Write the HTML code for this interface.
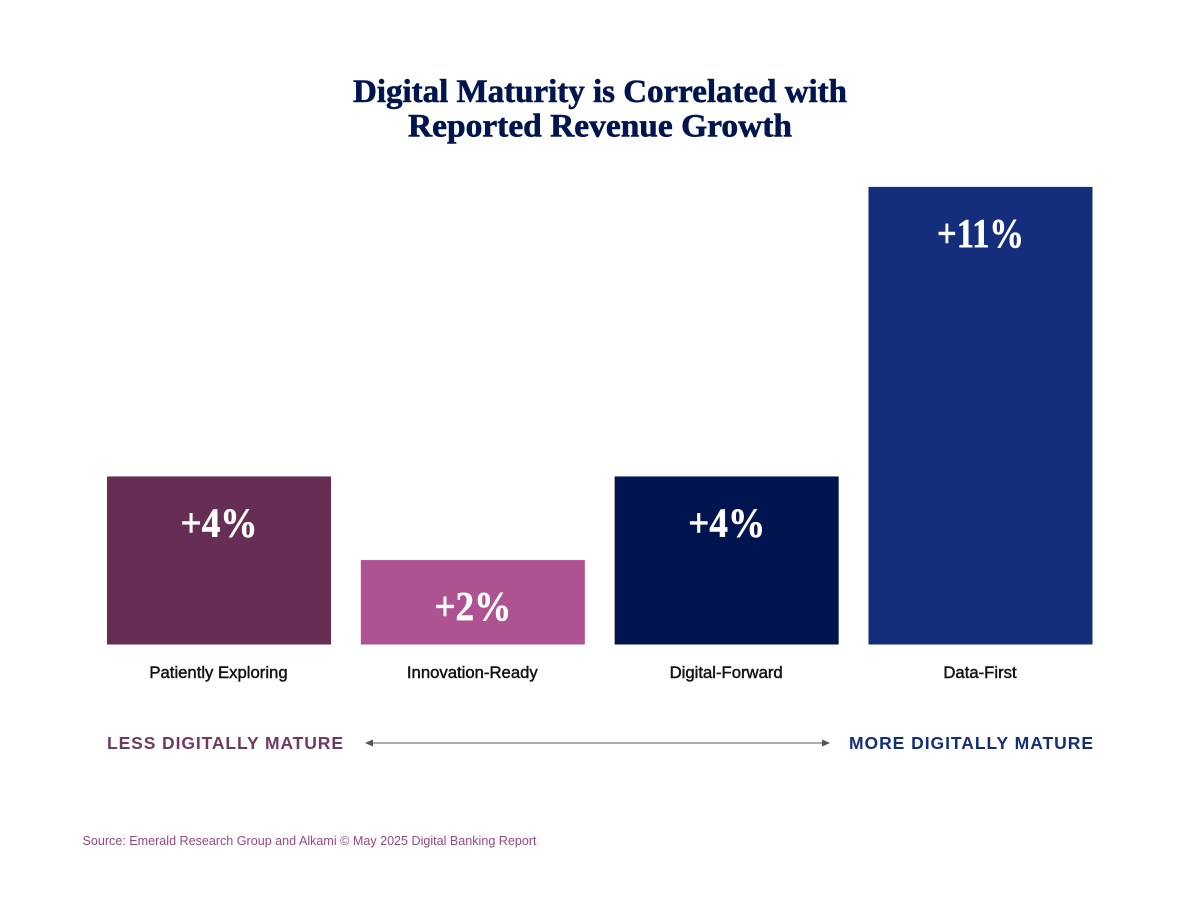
<!DOCTYPE html>
<html lang="en">
<head>
<meta charset="utf-8">
<title>Digital Maturity is Correlated with Reported Revenue Growth</title>
<style>
html,body{margin:0;padding:0;background:#fff;}
svg{display:block;}
.title{font-family:"Liberation Serif",serif;font-weight:700;font-size:33px;fill:#00154f;stroke:#00154f;stroke-width:0.6px;text-anchor:middle;}
.sans{font-family:"Liberation Sans",sans-serif;}
</style>
</head>
<body>
<svg id="chart" width="1200" height="897" viewBox="0 0 1200 897" xmlns="http://www.w3.org/2000/svg">
  <rect x="0" y="0" width="1200" height="897" fill="#ffffff"/>
  <text class="title" x="600" y="102" textLength="494" lengthAdjust="spacingAndGlyphs">Digital Maturity is Correlated with</text>
  <text class="title" x="600" y="136.5" textLength="384" lengthAdjust="spacingAndGlyphs">Reported Revenue Growth</text>
  <g id="bars"></g>
  <text class="sans" x="107" y="749" font-size="17.5" font-weight="700" fill="#6f3a60" textLength="236" lengthAdjust="spacing">LESS DIGITALLY MATURE</text>
  <line x1="371" y1="743" x2="825" y2="743" stroke="#555555" stroke-width="1"/>
  <polygon points="365,743 373,739.5 373,746.5" fill="#555555"/>
  <polygon points="830,743 822,739.5 822,746.5" fill="#555555"/>
  <text class="sans" x="849" y="749" font-size="17.5" font-weight="700" fill="#142e7b" textLength="244" lengthAdjust="spacing">MORE DIGITALLY MATURE</text>
  <text class="sans" x="82.5" y="845" font-size="13" fill="#97497f" textLength="454" lengthAdjust="spacingAndGlyphs">Source: Emerald Research Group and Alkami © May 2025 Digital Banking Report</text>
</svg>
<script>
const categories = ["Patiently Exploring", "Innovation-Ready", "Digital-Forward", "Data-First"];
const growthValues = [4.04, 2.03, 4.04, 11];
const barColors = ["#662e55", "#ae5292", "#00154f", "#142e7b"];

const SVG_NS = "http://www.w3.org/2000/svg";
const baselineY = 644.5;
const unitHeight = 41.6;
const bandStart = 107;
const bandStep = 253.83;
const barWidth = 224;

function xScale(i) { return bandStart + bandStep * i; }
function yScale(v) { return baselineY - v * unitHeight; }
function formatValue(v) { return "+" + Math.round(v) + "%"; }
function valueLabelWidth(text) { return 77 + (text.length - 3) * 10; }

const barsGroup = document.getElementById("bars");
categories.forEach(function (category, i) {
  const key = category.toLowerCase();
  const value = growthValues[i];
  const x = xScale(i);
  const top = yScale(value);
  const valueText = formatValue(value);

  const bar = document.createElementNS(SVG_NS, "rect");
  bar.setAttribute("x", x);
  bar.setAttribute("y", top);
  bar.setAttribute("width", barWidth);
  bar.setAttribute("height", baselineY - top);
  bar.setAttribute("fill", barColors[i]);
  
  
  barsGroup.appendChild(bar);

  const valueLabel = document.createElementNS(SVG_NS, "text");
  valueLabel.setAttribute("x", x + barWidth / 2);
  valueLabel.setAttribute("y", top + 60);
  valueLabel.setAttribute("text-anchor", "middle");
  valueLabel.setAttribute("font-family", '"Liberation Serif", serif');
  valueLabel.setAttribute("font-weight", "700");
  valueLabel.setAttribute("font-size", "41");
  valueLabel.setAttribute("fill", "#ffffff");
  valueLabel.setAttribute("stroke", "#ffffff");
  valueLabel.setAttribute("stroke-width", "0.5");
  valueLabel.setAttribute("textLength", valueLabelWidth(valueText));
  valueLabel.setAttribute("lengthAdjust", "spacingAndGlyphs");
  valueLabel.textContent = valueText;
  
  
  barsGroup.appendChild(valueLabel);

  const categoryLabel = document.createElementNS(SVG_NS, "text");
  categoryLabel.setAttribute("x", x + barWidth / 2 - 0.5);
  categoryLabel.setAttribute("y", 678);
  categoryLabel.setAttribute("text-anchor", "middle");
  categoryLabel.setAttribute("font-family", '"Liberation Sans", sans-serif');
  categoryLabel.setAttribute("font-size", "16.7");
  categoryLabel.setAttribute("fill", "#111111");
  categoryLabel.setAttribute("stroke", "#111111");
  categoryLabel.setAttribute("stroke-width", "0.45");
  categoryLabel.textContent = category;
  
  
  barsGroup.appendChild(categoryLabel);
});
</script>
</body>
</html>
